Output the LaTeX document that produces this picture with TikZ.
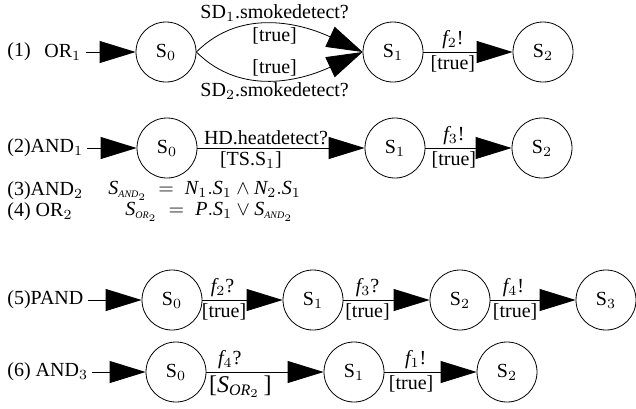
\documentclass[tikz,border=0pt]{standalone}
\usepackage{fontspec}
\setmainfont{Liberation Serif}
\usepackage{tikz}
\usetikzlibrary{arrows.meta, positioning}

\newcommand\mv[1]{\mathit{#1}}
\newcommand\ssub[1]{_{\scriptscriptstyle #1}}

\tikzset{
  stnode/.style={draw, circle, minimum size=30pt, inner sep=0pt},
  trans/.style={-{Triangle[length=18pt, width=11pt]}},
  lbl/.style={anchor=west, inner sep=2pt},
  elbl/.style={inner sep=1.5pt},
}

\begin{document}
\begin{tikzpicture}[x=0.5pt, y=-0.5pt, font=\fontsize{10}{12}\selectfont]
  \useasboundingbox (0,0) rectangle (636,408);

  % (1) OR1
  \node[lbl] (n1) at (3,52) {(1)};
  \node[lbl] (or1) at (40,52) {OR$_1$};
  \node[stnode] (a0) at (166,52) {S$_0$};
  \node[stnode] (a1) at (393,52) {S$_1$};
  \node[stnode] (a2) at (543,52) {S$_2$};
  \draw[trans] (or1) -- (a0);
  \draw[trans] (a0.east) to[out=45, in=155]
    node[elbl, above] {SD$_1$.smokedetect?}
    node[elbl, below] {[true]} (a1.west);
  \draw[trans] (a0.east) to[out=-45, in=-155]
    node[elbl, above] {[true]}
    node[elbl, below] {SD$_2$.smokedetect?} (a1.west);
  \draw[trans] (a1) -- node[elbl, above, pos=0.33] {$\mv{f}_2$!}
    node[elbl, below, pos=0.33] {[true]} (a2);

  % (2) AND1
  \node[lbl] (and1) at (3,148) {(2)AND$_1$};
  \node[stnode] (b0) at (167,148) {S$_0$};
  \node[stnode] (b1) at (395,148) {S$_1$};
  \node[stnode] (b2) at (542,148) {S$_2$};
  \draw[trans] (and1) -- (b0);
  \draw[trans] (b0) -- node[elbl, above, pos=0.41] {HD.heatdetect?}
    node[elbl, below, pos=0.32] {[TS.S$_1$]} (b1);
  \draw[trans] (b1) -- node[elbl, above, pos=0.33] {$\mv{f}_3$!}
    node[elbl, below, pos=0.33] {[true]} (b2);

  % (3) AND2, (4) OR2
  \node[lbl] (and2) at (3,191) {(3)AND$_2$};
  \node[lbl, inner sep=0pt] (eq3) at (108,191)
    {$\mv{S}\ssub{\mv{AND}_2} \;=\; \mv{N}_1.\mv{S}_1 \wedge \mv{N}_2.\mv{S}_1$};
  \node[lbl] (or2) at (3,212) {(4) OR$_2$};
  \node[lbl, inner sep=0pt] (eq4) at (125,212)
    {$\mv{S}\ssub{\mv{OR}_2} \;=\; \mv{P}.\mv{S}_1 \vee \mv{S}\ssub{\mv{AND}_2}$};

  % (5) PAND
  \node[lbl] (pand) at (3,300) {(5)PAND};
  \node[stnode] (c0) at (172,300) {S$_0$};
  \node[stnode] (c1) at (313,300) {S$_1$};
  \node[stnode] (c2) at (460,300) {S$_2$};
  \node[stnode] (c3) at (606,300) {S$_3$};
  \draw[trans] (pand) -- (c0);
  \draw[trans] (c0) -- node[elbl, above, pos=0.25] {$\mv{f}_2$?}
    node[elbl, below, pos=0.27] {[true]} (c1);
  \draw[trans] (c1) -- node[elbl, above, pos=0.28] {$\mv{f}_3$?}
    node[elbl, below, pos=0.28] {[true]} (c2);
  \draw[trans] (c2) -- node[elbl, above, pos=0.27] {$\mv{f}_4$!}
    node[elbl, below, pos=0.29] {[true]} (c3);

  % (6) AND3
  \node[lbl] (and3) at (3,372) {(6) AND$_3$};
  \node[stnode] (d0) at (176,372) {S$_0$};
  \node[stnode] (d1) at (354,372) {S$_1$};
  \node[stnode] (d2) at (507,372) {S$_2$};
  \draw[trans] (and3) -- (d0);
  \draw[trans] (d0) -- node[elbl, above, pos=0.2] {$\mv{f}_4$?}
    node[elbl, below, pos=0.29] {\large[$\mv{S}_{\mv{OR}_2}$\,]} (d1);
  \draw[trans] (d1) -- node[elbl, above, pos=0.34] {$\mv{f}_1$!}
    node[elbl, below, pos=0.29] {[true]} (d2);
\end{tikzpicture}
\end{document}
